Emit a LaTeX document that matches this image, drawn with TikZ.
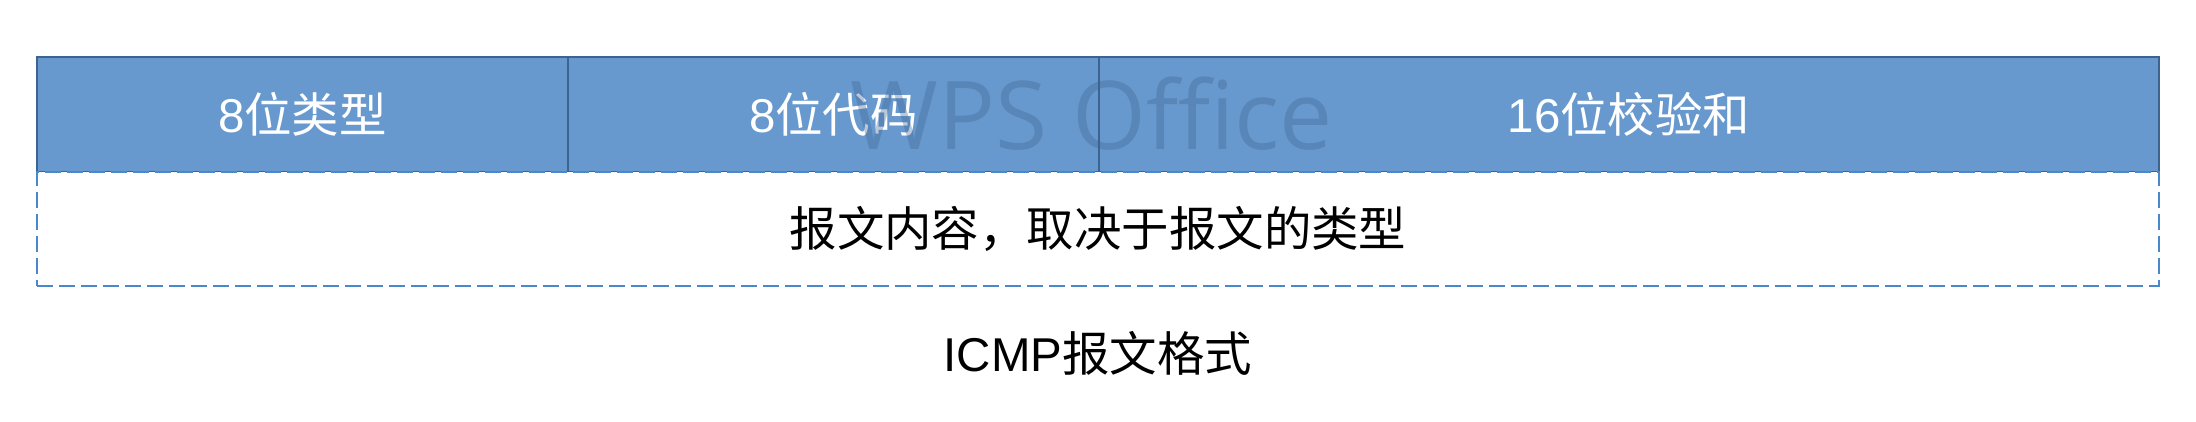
\documentclass[tikz,border=0pt]{standalone}
\usepackage{fontspec}
\setmainfont{Liberation Sans}
\newfontfamily\cjk{Noto Sans CJK SC}
\newfontfamily\markfont{Open Sans}
\newcommand{\zh}[1]{{\cjk #1}}
\usetikzlibrary{positioning}
\definecolor{cblue}{HTML}{6899CE}
\definecolor{cedge}{HTML}{3D6390}
\definecolor{cdash}{HTML}{4A88CC}
\tikzset{
  every picture/.style={font=\fontsize{13.5}{16}\selectfont},
  field/.style={draw=cedge, fill=cblue, text=white, line width=0.6pt, minimum height=1.15cm,
    inner sep=0pt, outer sep=0pt},
  payload/.style={draw=cdash, fill=white, dash pattern=on 0.16cm off 0.06cm, line width=0.8pt,
    minimum width=21.22cm, minimum height=1.14cm, inner sep=0pt, outer sep=0pt},
  caption/.style={inner sep=0pt, text=black},
}

\begin{document}
\begin{tikzpicture}
  \useasboundingbox (0,0) rectangle (21.96,4.22);
  % header fields
  \node[field, minimum width=5.31cm, anchor=north west] (type) at (0.37,3.65) {8\zh{位类型}};
  \node[field, minimum width=5.31cm, right=0pt of type] (code) {8\zh{位代码}};
  \node[field, minimum width=10.6cm, right=0pt of code] (checksum) {16\zh{位校验和}};
  % message body
  \node[payload, anchor=north west] (body) at (type.south west) {\zh{报文内容，取决于报文的类型}};
  % watermark
  \node[text=cedge, text opacity=0.35, inner sep=0pt, font=\markfont\fontsize{27}{30}\selectfont]
    (mark) at (10.92,3.08) {WPS Office};
  \node[caption, below=0.45cm of body] (title) {ICMP\zh{报文格式}};
\end{tikzpicture}
\end{document}
